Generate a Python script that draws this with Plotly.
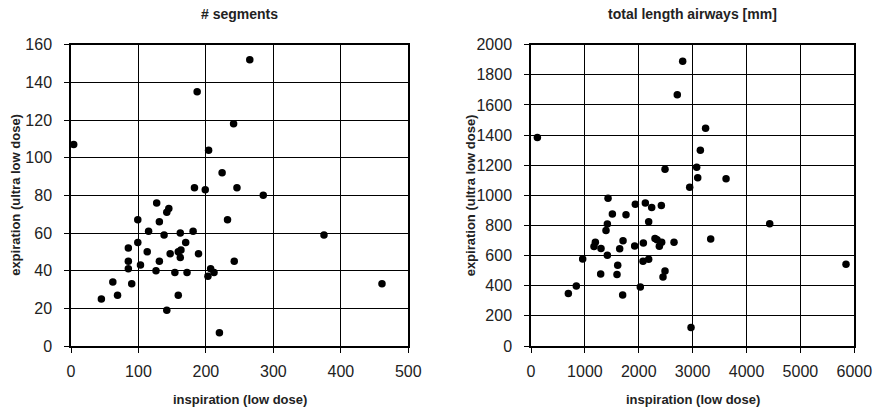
import plotly.graph_objects as go

# Panel 1: number of segments
seg_insp = [183, 199, 246, 127, 145, 142, 99, 131, 232, 115, 138, 162, 181, 99, 170,
            85, 113, 147, 159, 163, 162, 189, 85, 131, 242, 85, 103, 126, 154, 172,
            207, 212, 203, 62, 90, 69, 45, 159, 142, 220, 265, 187, 241, 4, 204, 224,
            285, 375, 461]
seg_exp = [84, 83, 84, 76, 73, 71, 67, 66, 67, 61, 59, 60, 61, 55, 55,
           52, 50, 49, 50, 51, 47, 49, 45, 45, 45, 41, 43, 40, 39, 39,
           41, 39, 37, 34, 33, 27, 25, 27, 19, 7, 152, 135, 118, 107, 104, 92,
           80, 59, 33]

# Panel 2: total length airways [mm]
len_insp = [2815, 2715, 3240, 118, 3143, 2487, 3075, 3094, 2945, 3620, 3335, 4430, 5846,
            1430, 1510, 1936, 2122, 2240, 2419, 1763, 2184, 1417, 1392, 1194, 1169, 1299,
            1417, 1708, 1646, 1924, 2085, 2301, 2339, 2425, 2382, 2654, 959, 2079, 2184,
            1609, 1293, 1596, 2487, 2450, 841, 693, 1701, 2029, 2970]
len_exp = [1890, 1668, 1446, 1384, 1300, 1174, 1187, 1116, 1054, 1110, 711, 811, 543,
           981, 877, 941, 950, 919, 932, 872, 824, 809, 766, 689, 660, 647,
           602, 698, 645, 664, 684, 713, 706, 689, 662, 689, 578, 563, 576,
           536, 478, 474, 498, 458, 399, 348, 339, 392, 122]

titles = ["# segments", "total length airways [mm]"]
x_title = "inspiration (low dose)"
y_title = "expiration (ultra low dose)"

FONT = "Liberation Sans, Arial, sans-serif"

fig = go.Figure()
fig.add_trace(go.Scatter(x=seg_insp, y=seg_exp, mode="markers",
                         marker=dict(color="black", size=7.5), xaxis="x", yaxis="y"))
fig.add_trace(go.Scatter(x=len_insp, y=len_exp, mode="markers",
                         marker=dict(color="black", size=7.5), xaxis="x2", yaxis="y2"))

common = dict(showgrid=True, gridcolor="black", gridwidth=1, showline=True,
              linecolor="black", linewidth=1.5, mirror=True, ticks="outside",
              ticklen=5, tickcolor="black", zeroline=False, automargin=False,
              tickfont=dict(family=FONT, size=16, color="#222"))

ydom = [(410 - 346) / 410, (410 - 44.7) / 410]
fig.update_layout(
    width=877, height=410,
    margin=dict(l=0, r=0, t=0, b=0),
    paper_bgcolor="white", plot_bgcolor="white",
    showlegend=False,
    xaxis=dict(domain=[71 / 877, 408.3 / 877], range=[0, 500], dtick=100, anchor="y",
               ticklabelstandoff=5, **common),
    yaxis=dict(domain=ydom, range=[0, 160], dtick=20, anchor="x", ticklabelstandoff=9, **common),
    xaxis2=dict(domain=[531 / 877, 854.3 / 877], range=[0, 6000], dtick=1000, anchor="y2",
                ticklabelstandoff=5, **common),
    yaxis2=dict(domain=ydom, range=[0, 2000], dtick=200, anchor="x2", ticklabelstandoff=9, **common),
)

title_font = dict(family=FONT, size=14, color="#222", weight="bold")
ax_font = dict(family=FONT, size=13, color="#222", weight="bold")
annotations = []
for cx, t in [((71 + 408.3) / 2 / 877, titles[0]), ((531 + 854.3) / 2 / 877, titles[1])]:
    annotations.append(dict(text=t, x=cx, y=(410 - 14) / 410, xref="paper",
                            yref="paper", showarrow=False, font=title_font,
                            xanchor="center", yanchor="middle"))
    annotations.append(dict(text=x_title, x=cx, y=(410 - 399) / 410, xref="paper",
                            yref="paper", showarrow=False, font=ax_font,
                            xanchor="center", yanchor="middle"))
for yx in [15.5 / 877, 470 / 877]:
    annotations.append(dict(text=y_title, x=yx, y=(ydom[0] + ydom[1]) / 2,
                            xref="paper", yref="paper", showarrow=False, font=ax_font,
                            textangle=-90, xanchor="center", yanchor="middle"))
fig.update_layout(annotations=annotations)

fig.write_html("out.html", config={"displayModeBar": False},
               post_script="document.body.style.margin='0';document.body.style.overflow='hidden';")
